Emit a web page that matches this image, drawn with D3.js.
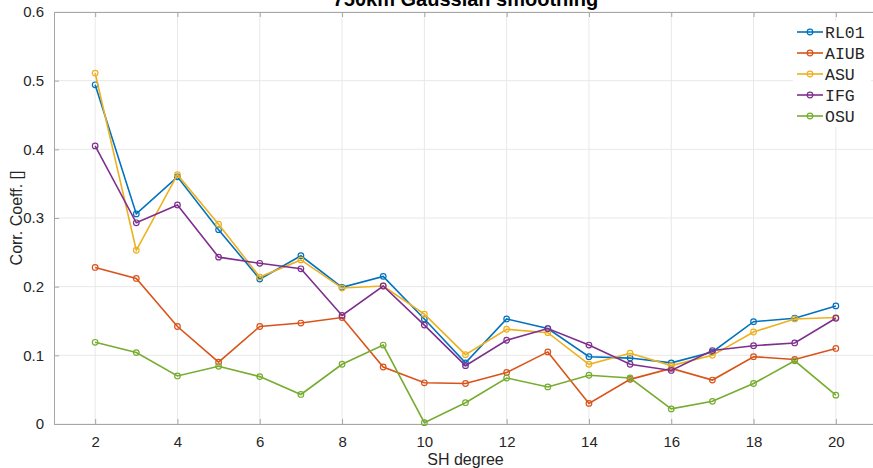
<!DOCTYPE html>
<html>
<head>
<meta charset="UTF-8">
<script src="https://d3js.org/d3.v7.min.js"></script>
<style>
  body { margin: 0; background: #fff; }
  text { font-family: "Liberation Sans", Arial, sans-serif; }
</style>
</head>
<body>
<div id="chart"></div>
<script>
    // data
    const degrees = [2, 3, 4, 5, 6, 7, 8, 9, 10, 11, 12, 13, 14, 15, 16, 17, 18, 19, 20];
    const seriesNames = ["RL01", "AIUB", "ASU", "IFG", "OSU"];
    const rl01 = [0.494, 0.306, 0.360, 0.283, 0.211, 0.245, 0.199, 0.215, 0.153, 0.089, 0.153, 0.139, 0.098, 0.096, 0.089, 0.105, 0.149, 0.154, 0.172];
    const aiub = [0.228, 0.212, 0.142, 0.090, 0.142, 0.147, 0.155, 0.083, 0.060, 0.059, 0.075, 0.105, 0.030, 0.065, 0.081, 0.064, 0.098, 0.094, 0.110];
    const asu  = [0.511, 0.253, 0.363, 0.291, 0.214, 0.239, 0.198, 0.201, 0.160, 0.101, 0.138, 0.133, 0.087, 0.103, 0.085, 0.100, 0.134, 0.153, 0.155];
    const ifg  = [0.405, 0.293, 0.319, 0.243, 0.234, 0.226, 0.158, 0.201, 0.144, 0.085, 0.122, 0.139, 0.115, 0.087, 0.078, 0.107, 0.114, 0.118, 0.154];
    const osu  = [0.119, 0.104, 0.070, 0.084, 0.069, 0.043, 0.087, 0.115, 0.002, 0.031, 0.067, 0.054, 0.071, 0.067, 0.022, 0.033, 0.059, 0.092, 0.042];
    const xTicks = [2, 4, 6, 8, 10, 12, 14, 16, 18, 20];
    const yTicks = [0, 0.1, 0.2, 0.3, 0.4, 0.5, 0.6];

    const allSeries = [rl01, aiub, asu, ifg, osu];
    const colors = ["#0072BD", "#D95319", "#EDB120", "#7E2F8E", "#77AC30"];

    const W = 873, H = 468;
    const svg = d3.select("#chart").append("svg")
        .attr("width", W).attr("height", H);

    const x = d3.scaleLinear().domain([1, 21]).range([54, 877]);
    const y = d3.scaleLinear().domain([0, 0.6]).range([424, 12]);

    // grid
    svg.append("g").selectAll("line").data(xTicks).join("line")
        .attr("x1", d => x(d)).attr("x2", d => x(d))
        .attr("y1", y(0)).attr("y2", y(0.6))
        .attr("stroke", "#e8e8e8").attr("stroke-width", 1);
    svg.append("g").selectAll("line").data(yTicks).join("line")
        .attr("x1", x(1)).attr("x2", x(21))
        .attr("y1", d => y(d)).attr("y2", d => y(d))
        .attr("stroke", "#e8e8e8").attr("stroke-width", 1);

    // axes (ticks inward, box on)
    const axisColor = "#a6a6a6";
    const xAxis = svg.append("g")
        .attr("transform", `translate(0,${y(0)})`)
        .call(d3.axisBottom(x).tickValues(xTicks).tickSizeInner(-5).tickSizeOuter(0).tickPadding(12));
    const xTop = svg.append("g")
        .attr("transform", `translate(0,${y(0.6)})`)
        .call(d3.axisTop(x).tickValues(xTicks).tickSizeInner(-5).tickSizeOuter(0).tickFormat(""));
    const yAxis = svg.append("g")
        .attr("transform", `translate(${x(1)},0)`)
        .call(d3.axisLeft(y).tickValues(yTicks).tickSizeInner(-5).tickSizeOuter(0).tickPadding(10)
            .tickFormat(d => d === 0 ? "0" : d3.format(".1f")(d)));
    [xAxis, xTop, yAxis].forEach(g => {
        g.select(".domain").attr("stroke", axisColor);
        g.selectAll(".tick line").attr("stroke", axisColor);
        g.selectAll(".tick text")
            .attr("fill", "#262626")
            .style("font-size", "15px")
            .style("font-family", "'Liberation Sans', Arial, sans-serif");
    });

    // lines + markers
    const line = d3.line()
        .x((d, i) => x(degrees[i]))
        .y(d => y(d));

    allSeries.forEach((vals, k) => {
        const g = svg.append("g");
        g.append("path")
            .datum(vals)
            .attr("d", line)
            .attr("fill", "none")
            .attr("stroke", colors[k])
            .attr("stroke-width", 1.6);
        g.selectAll("circle").data(vals).join("circle")
            .attr("cx", (d, i) => x(degrees[i]))
            .attr("cy", d => y(d))
            .attr("r", 2.8)
            .attr("fill", "none")
            .attr("stroke", colors[k])
            .attr("stroke-width", 1.2);
    });

    // legend
    const legend = svg.append("g");
    legend.append("rect")
        .attr("x", 793).attr("y", 21).attr("width", 78).attr("height", 106)
        .attr("fill", "#fff");
    seriesNames.forEach((name, k) => {
        const ly = 32 + k * 21;
        legend.append("line")
            .attr("x1", 797).attr("x2", 823).attr("y1", ly).attr("y2", ly)
            .attr("stroke", colors[k]).attr("stroke-width", 1.6);
        legend.append("circle")
            .attr("cx", 810).attr("cy", ly).attr("r", 2.8)
            .attr("fill", "none").attr("stroke", colors[k]).attr("stroke-width", 1.2);
        legend.append("text")
            .attr("x", 825).attr("y", ly).attr("dy", "0.35em")
            .style("font-family", "'Liberation Mono', 'Courier New', monospace")
            .style("font-size", "16.5px")
            .attr("fill", "#262626")
            .text(name);
    });

    // title and labels
    svg.append("text")
        .attr("x", (x(1) + x(21)) / 2).attr("y", 6)
        .attr("text-anchor", "middle")
        .style("font-size", "20px").style("font-weight", "bold")
        .attr("fill", "#000")
        .text("750km Gaussian smoothing");

    svg.append("text")
        .attr("x", (x(1) + x(21)) / 2).attr("y", 465)
        .attr("text-anchor", "middle")
        .style("font-size", "16px")
        .attr("fill", "#262626")
        .text("SH degree");

    svg.append("text")
        .attr("transform", `translate(22,${(y(0) + y(0.6)) / 2}) rotate(-90)`)
        .attr("text-anchor", "middle")
        .style("font-size", "16px")
        .attr("fill", "#262626")
        .text("Corr. Coeff. []");
</script>
</body>
</html>
